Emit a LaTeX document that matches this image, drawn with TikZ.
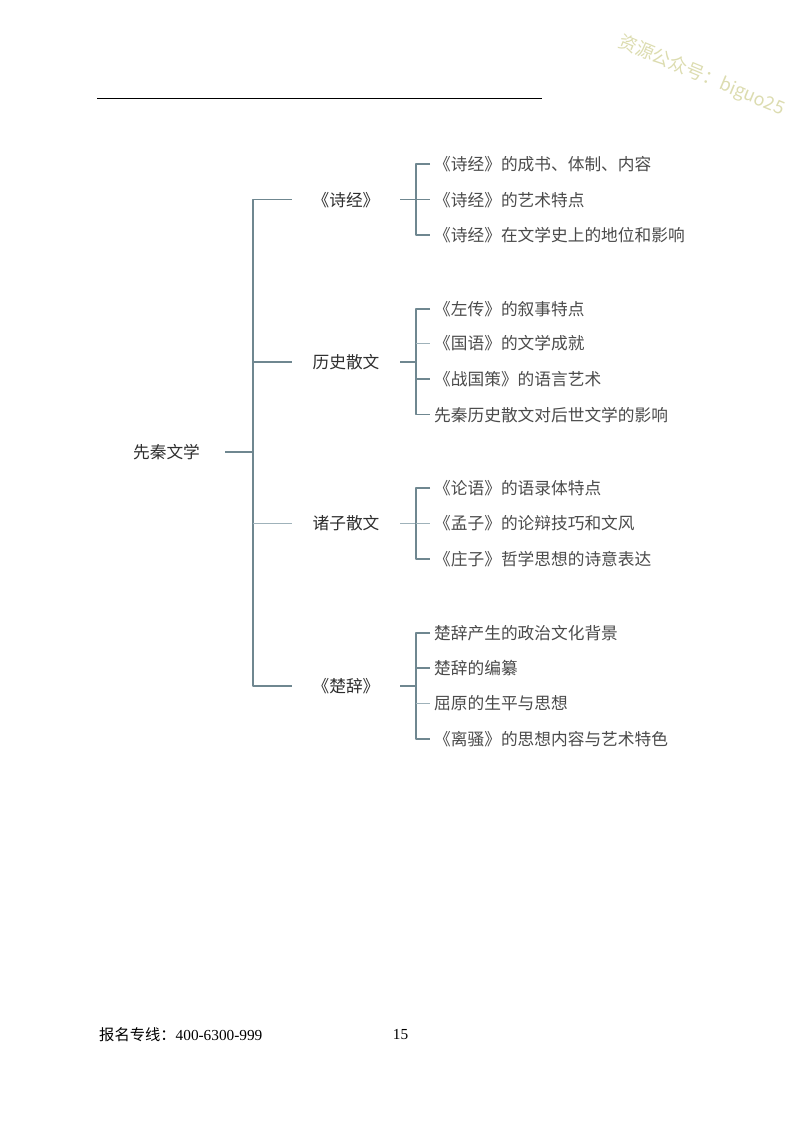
\documentclass[tikz,border=0pt]{standalone}
\usepackage{fontspec}
\setmainfont{Liberation Serif}
\newfontfamily\cjk{Noto Sans CJK SC}
\definecolor{linkc}{HTML}{6F8790}
\definecolor{linkl}{HTML}{9FB2BA}
\definecolor{inkc}{HTML}{2E2E2E}
\definecolor{leafc}{HTML}{4A4A4A}
\definecolor{wmc}{HTML}{DCDCB0}
\tikzset{
  base/.style={inner ysep=0pt,text height=13pt,text depth=0pt,font=\cjk\fontsize{16.7}{17}\selectfont},
  rootn/.style={base,text=inkc,minimum width=117pt,inner xsep=0pt},
  branchn/.style={base,text=inkc,minimum width=108pt,inner xsep=0pt},
  leafn/.style={base,text=leafc,anchor=west,inner xsep=4pt},
  conn/.style={draw=linkc,line width=1.2pt,line join=round},
  connl/.style={draw=linkl,line width=1pt},
}
\begin{document}
\begin{tikzpicture}[x=1pt,y=-1pt]
\useasboundingbox (0,0) rectangle (800,1124);
\coordinate (ruleA) at (97,98.5);
\coordinate (ruleB) at (542,98.5);
\draw[black,line width=1pt] (ruleA) -- (ruleB);
\node[rotate=-22.5,text=wmc,inner sep=0pt,font=\cjk\fontsize{18.2}{18}\selectfont] (wm) at (701.5,76) {资源公众号：biguo25};

\node[rootn] (root) at (166.5,452) {先秦文学};
\node[branchn] (b1) at (346,199.5) {《诗经》};
\node[branchn] (b2) at (346,362) {历史散文};
\node[branchn] (b3) at (346,523) {诸子散文};
\node[branchn] (b4) at (346,686) {《楚辞》};

\node[leafn] (l11) at (430,164) {《诗经》的成书、体制、内容};
\node[leafn] (l12) at (430,199.5) {《诗经》的艺术特点};
\node[leafn] (l13) at (430,235) {《诗经》在文学史上的地位和影响};
\node[leafn] (l21) at (430,309) {《左传》的叙事特点};
\node[leafn] (l22) at (430,343) {《国语》的文学成就};
\node[leafn] (l23) at (430,379) {《战国策》的语言艺术};
\node[leafn] (l24) at (430,414.5) {先秦历史散文对后世文学的影响};
\node[leafn] (l31) at (430,488) {《论语》的语录体特点};
\node[leafn] (l32) at (430,523) {《孟子》的论辩技巧和文风};
\node[leafn] (l33) at (430,559) {《庄子》哲学思想的诗意表达};
\node[leafn] (l41) at (430,633) {楚辞产生的政治文化背景};
\node[leafn] (l42) at (430,668) {楚辞的编纂};
\node[leafn] (l43) at (430,703) {屈原的生平与思想};
\node[leafn] (l44) at (430,739) {《离骚》的思想内容与艺术特色};

\coordinate (tk) at (253,452);
\coordinate (sp) at (416,400);

\draw[conn] (root.east) -- (root.east -| tk);
\draw[conn] (b1.west) -- (b1.west -| tk) -- (b4.west -| tk) -- (b4.west);
\draw[conn] (b2.west -| tk) -- (b2.west);
\draw[connl] (b3.west -| tk) -- (b3.west);

\draw[conn] (b1.east) -- (b1.east -| sp);
\draw[conn] (b2.east) -- (b2.east -| sp);
\draw[connl] (b3.east) -- (b3.east -| sp);
\draw[conn] (b4.east) -- (b4.east -| sp);

\draw[conn] (l11.west) -- (l11.west -| sp) -- (l13.west -| sp) -- (l13.west);
\draw[conn] (l12.west -| sp) -- (l12.west);
\draw[conn] (l21.west) -- (l21.west -| sp) -- (l24.west -| sp) -- (l24.west);
\draw[connl] (l22.west -| sp) -- (l22.west);
\draw[conn] (l23.west -| sp) -- (l23.west);
\draw[conn] (l31.west) -- (l31.west -| sp) -- (l33.west -| sp) -- (l33.west);
\draw[connl] (l32.west -| sp) -- (l32.west);
\draw[conn] (l41.west) -- (l41.west -| sp) -- (l44.west -| sp) -- (l44.west);
\draw[conn] (l42.west -| sp) -- (l42.west);
\draw[connl] (l43.west -| sp) -- (l43.west);

\node[anchor=west,inner sep=0pt,text=black,font=\fontsize{15.3}{16}\selectfont] (foot) at (99,1035) {{\cjk 报名专线：}400-6300-999};
\node[inner sep=0pt,text=black,font=\fontsize{15.3}{16}\selectfont] (pg) at (400.5,1034.5) {15};
\end{tikzpicture}
\end{document}
